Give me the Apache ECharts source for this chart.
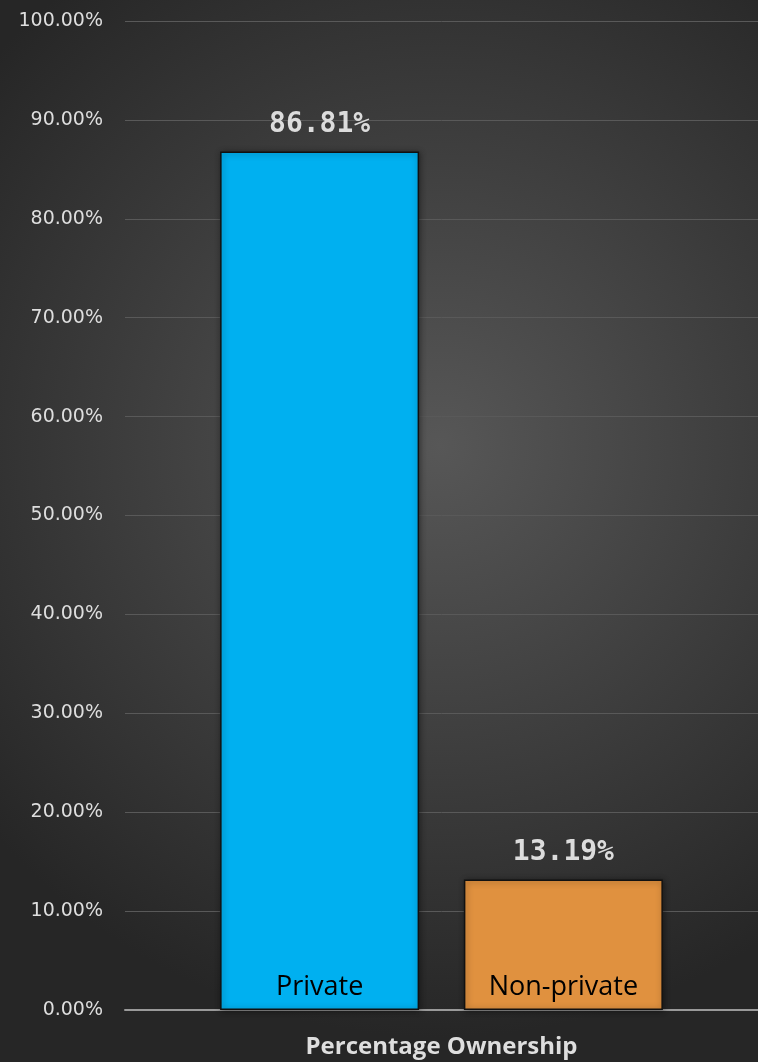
<!DOCTYPE html>
<html><head><meta charset="utf-8">
<script src="https://cdn.jsdelivr.net/npm/echarts@6/dist/echarts.min.js"></script>
<style>html,body{margin:0;padding:0;background:#2e2e2e}#c{width:758px;height:1062px}</style>
</head><body><div id="c"></div>
<script>
const categories = ['Percentage Ownership'];
const seriesNames = ['Private', 'Non-private'];
const privateValues = [86.81];
const nonPrivateValues = [13.19];
const yTicks = [0,10,20,30,40,50,60,70,80,90,100];
const colors = ['#00B0F0', '#E0913F'];

const chart = echarts.init(document.getElementById('c'));
const BW = 199, GAP = '22.5%';
const valueSeries = (name, data, color) => ({
  name, type: 'bar', data, xAxisIndex: 0,
  barWidth: BW, barGap: GAP,
  itemStyle: { color, borderColor: '#111', borderWidth: 1.5, shadowColor: 'rgba(0,0,0,0.45)', shadowBlur: 6, shadowOffsetX: 1, shadowOffsetY: 1 },
  label: { show: true, position: 'top', distance: 13, formatter: p => p.value.toFixed(2) + '%',
    color: '#dcdcdc', fontFamily: 'DejaVu Sans Mono', fontWeight: 'bold', fontSize: 28 }
});
const nameSeries = (name, data) => ({
  name: name + ' ', type: 'bar', data, xAxisIndex: 1, z: 5,
  barWidth: BW, barGap: GAP, silent: true,
  itemStyle: { color: 'rgba(0,0,0,0)' },
  label: { show: true, position: 'insideBottom', distance: 9, formatter: name,
    color: '#000', fontFamily: 'Open Sans', fontSize: 27 }
});
const option = {
  backgroundColor: { type: 'radial', x: 0.58, y: 0.42, r: 0.78,
    colorStops: [{ offset: 0, color: '#575757' }, { offset: 1, color: '#262626' }] },
  animation: false,
  grid: { left: 125, right: 0, top: 21, bottom: 52 },
  xAxis: [
    { type: 'category', data: categories,
      axisLine: { lineStyle: { color: '#9a9a9a', width: 2 } }, axisTick: { show: false },
      axisLabel: { color: '#dedede', fontFamily: 'Open Sans', fontWeight: 'bold', fontSize: 24, margin: 25 } },
    { type: 'category', data: categories, show: false }
  ],
  yAxis: { type: 'value', min: 0, max: 100, interval: 10,
    axisLabel: { formatter: v => v.toFixed(2) + '%', color: '#dedede', fontFamily: 'DejaVu Sans', fontSize: 19, margin: 22 },
    axisLine: { show: false }, axisTick: { show: false },
    splitLine: { lineStyle: { color: '#595959', width: 1 } } },
  series: [
    valueSeries(seriesNames[0], privateValues, colors[0]),
    valueSeries(seriesNames[1], nonPrivateValues, colors[1]),
    nameSeries(seriesNames[0], privateValues),
    nameSeries(seriesNames[1], nonPrivateValues)
  ]
};
chart.setOption(option);
</script></body></html>
